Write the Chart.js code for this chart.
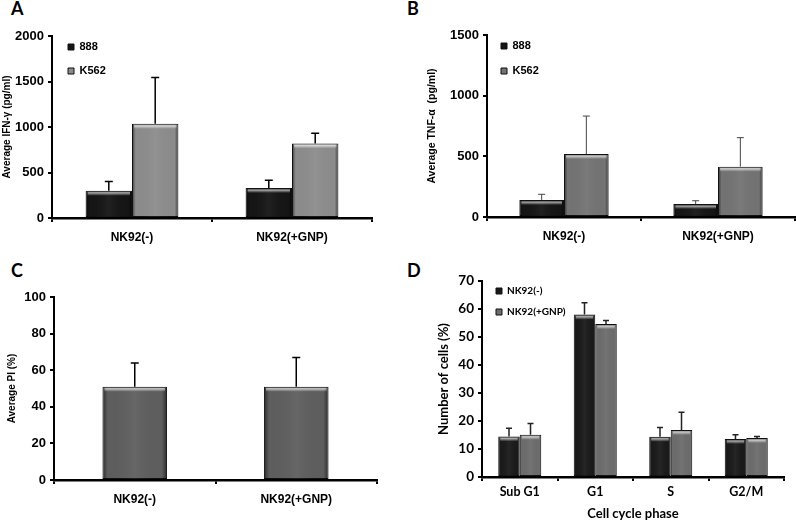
<!DOCTYPE html>
<html><head><meta charset="utf-8">
<script src="https://cdn.jsdelivr.net/npm/chart.js@4/dist/chart.umd.min.js"></script>
<style>
html,body{margin:0;padding:0;background:#fff;width:796px;height:527px;overflow:hidden;position:relative}
canvas{position:absolute}
.lbl{position:absolute;font-family:Lato,'Liberation Sans',sans-serif;font-weight:bold;font-size:18px;color:#000;line-height:20px}
</style></head><body>
<div class="lbl" style="left:11px;top:-2px">A</div>
<div class="lbl" style="left:407px;top:-2px">B</div>
<div class="lbl" style="left:11px;top:260px">C</div>
<div class="lbl" style="left:407px;top:260px">D</div>
<canvas id="cA" width="400" height="260" style="left:0;top:0"></canvas>
<canvas id="cB" width="396" height="260" style="left:400px;top:0"></canvas>
<canvas id="cC" width="400" height="267" style="left:0;top:260px"></canvas>
<canvas id="cD" width="396" height="267" style="left:400px;top:260px"></canvas>
<script>
// ---- data ----
const groups = ['NK92(-)', 'NK92(+GNP)'];
const ifn888 = [300, 330];
const ifn888Err = [100, 85];
const ifnK562 = [1035, 820];
const ifnK562Err = [510, 110];
const tnf888 = [140, 107];
const tnf888Err = [47, 27];
const tnfK562 = [519, 415];
const tnfK562Err = [313, 239];
const piMean = [51, 51];
const piErr = [13, 16];
const phases = ['Sub G1', 'G1', 'S', 'G2/M'];
const cellsCtrl = [14.5, 58.0, 14.4, 13.6];
const cellsCtrlErr = [2.9, 4.2, 3.3, 1.5];
const cellsGnp = [15.1, 54.6, 16.8, 13.9];
const cellsGnpErr = [4.0, 1.3, 6.3, 0.6];

Chart.defaults.font.family = "'Liberation Sans', Arial, sans-serif";
Chart.defaults.font.weight = 'bold';
Chart.defaults.color = '#000';

const bevel = {
  id: 'bevel',
  afterDatasetsDraw(chart) {
    const ctx = chart.ctx;
    chart.data.datasets.forEach((ds, di) => {
      chart.getDatasetMeta(di).data.forEach(bar => {
        const p = bar.getProps(['x', 'y', 'base', 'width'], true);
        const l = p.x - p.width / 2, r = p.x + p.width / 2;
        const t = Math.min(p.y, p.base), b = Math.max(p.y, p.base);
        const g = ctx.createLinearGradient(l, 0, r, 0);
        g.addColorStop(0, 'rgba(0,0,0,0.55)');
        g.addColorStop(0.08, 'rgba(0,0,0,0.0)');
        g.addColorStop(0.5, 'rgba(255,255,255,0.05)');
        g.addColorStop(0.92, 'rgba(0,0,0,0.0)');
        g.addColorStop(1, 'rgba(0,0,0,0.55)');
        ctx.save();
        ctx.fillStyle = g;
        ctx.fillRect(l + 1, t + 1, p.width - 2, b - t - 1);
        const hg = ctx.createLinearGradient(0, t + 1, 0, t + 5);
        hg.addColorStop(0, 'rgba(255,255,255,0.85)');
        hg.addColorStop(1, 'rgba(255,255,255,0)');
        ctx.fillStyle = hg;
        ctx.fillRect(l + 2, t + 1.5, p.width - 4, 4);
        ctx.restore();
      });
    });
  }
};

const errorBars = {
  id: 'errorBars',
  afterDatasetsDraw(chart, args, opts) {
    const ctx = chart.ctx, ys = chart.scales.y;
    chart.data.datasets.forEach((ds, di) => {
      chart.getDatasetMeta(di).data.forEach((bar, i) => {
        const v = ds.data[i], e = ds.errors[i];
        const y0 = ys.getPixelForValue(v), y1 = ys.getPixelForValue(v + e);
        ctx.save();
        ctx.strokeStyle = opts.color; ctx.lineWidth = opts.width;
        ctx.beginPath();
        ctx.moveTo(bar.x, y0); ctx.lineTo(bar.x, y1);
        ctx.moveTo(bar.x - opts.cap, y1); ctx.lineTo(bar.x + opts.cap, y1);
        ctx.stroke();
        ctx.restore();
      });
    });
  }
};

const legendMover = {
  id: 'legendMover',
  afterLayout(chart, args, opts) {
    const lg = chart.legend;
    if (!lg || opts.x == null) return;
    const pad = opts.pad, fs = opts.fs;
    const nl = opts.x - pad, nt = opts.y - fs / 2 - pad;
    const dx = nl - lg.left, dy = nt - lg.top;
    lg.left += dx; lg.right += dx; lg.top += dy; lg.bottom += dy;
  }
};

function makeChart(id, cfg) {
  const ff = cfg.fontFamily;
  const tickFont = {family: ff, size: cfg.tickSize, weight: 'bold'};
  return new Chart(document.getElementById(id), {
    type: 'bar',
    data: {labels: cfg.labels, datasets: cfg.datasets.map(d => Object.assign({
      borderColor: '#111', borderWidth: 1, borderSkipped: false,
      categoryPercentage: cfg.catPct, barPercentage: 1
    }, d))},
    options: {
      responsive: false, animation: false, events: [],
      layout: {padding: cfg.padding},
      plugins: {
        tooltip: {enabled: false},
        title: {display: false},
        legend: cfg.legend ? {
          display: true, position: 'chartArea', align: 'start',
          labels: {boxWidth: 6, boxHeight: 6, padding: cfg.legend.pad,
                   font: {family: ff, size: cfg.legend.fs, weight: 'bold'}, color: '#000'}
        } : {display: false},
        legendMover: cfg.legend ? cfg.legend : {},
        errorBars: cfg.err
      },
      scales: {
        x: {
          grid: {display: true, drawOnChartArea: false, tickLength: 4, color: '#000', lineWidth: 2, offset: true},
          border: {display: true, color: '#000', width: 2.5},
          ticks: {font: {family: ff, size: cfg.xLabelSize, weight: 'bold'}, padding: cfg.xPad, color: '#000', maxRotation: 0},
          title: cfg.xTitle ? {display: true, text: cfg.xTitle, font: {family: ff, size: 13, weight: 'bold'}, padding: {top: 0, bottom: cfg.xTitlePad}, color: '#000'} : {display: false},
          afterFit(s) { s.height = cfg.xH; }
        },
        y: {
          min: 0, max: cfg.max,
          ticks: {stepSize: cfg.step, font: tickFont, padding: 4, color: '#000', callback: v => String(v)},
          grid: {display: true, drawOnChartArea: false, tickLength: 4, color: '#000', lineWidth: 2},
          border: {display: true, color: '#000', width: 2},
          title: {display: true, text: cfg.yTitle, font: {family: ff, size: cfg.yTitleSize, weight: 'bold'}, padding: {top: cfg.yTitlePad, bottom: 0}, color: '#000'},
          afterFit(s) { s.width = cfg.yW; }
        }
      }
    },
    plugins: [bevel, errorBars, legendMover]
  });
}

const arial = "'Liberation Sans', Arial, sans-serif";
const calibri = "Lato, 'Open Sans', sans-serif";

makeChart('cA', {
  fontFamily: arial, tickSize: 13, xLabelSize: 12, xPad: 8,
  labels: groups,
  datasets: [
    {label: '888', data: ifn888, errors: ifn888Err, backgroundColor: '#151515'},
    {label: 'K562', data: ifnK562, errors: ifnK562Err, backgroundColor: '#8c8c8c'}
  ],
  catPct: 0.58, padding: {left: 0, top: 36, right: 28, bottom: 0},
  yW: 52, xH: 42, max: 2000, step: 500,
  yTitle: 'Average IFN-\u03b3 (pg/ml)', yTitleSize: 10, yTitlePad: 1,
  legend: {x: 68, y: 47, pad: 13, fs: 11},
  err: {color: '#000', width: 1.5, cap: 4}
});

makeChart('cB', {
  fontFamily: arial, tickSize: 13, xLabelSize: 12, xPad: 8,
  labels: groups,
  datasets: [
    {label: '888', data: tnf888, errors: tnf888Err, backgroundColor: '#151515'},
    {label: 'K562', data: tnfK562, errors: tnfK562Err, backgroundColor: '#737373'}
  ],
  catPct: 0.58, padding: {left: 0, top: 35, right: 1, bottom: 0},
  yW: 87, xH: 43, max: 1500, step: 500,
  yTitle: 'Average TNF-\u03b1  (pg/ml)', yTitleSize: 10.5, yTitlePad: 26,
  legend: {x: 101, y: 46, pad: 14, fs: 11},
  err: {color: '#444', width: 1, cap: 3.5}
});

makeChart('cC', {
  fontFamily: arial, tickSize: 13, xLabelSize: 12, xPad: 8,
  labels: groups,
  datasets: [
    {label: 'PI', data: piMean, errors: piErr, backgroundColor: '#5e5e5e'}
  ],
  catPct: 0.4, padding: {left: 0, top: 37, right: 23, bottom: 0},
  yW: 54, xH: 47, max: 100, step: 20,
  yTitle: 'Average PI (%)', yTitleSize: 10, yTitlePad: 6,
  legend: null,
  err: {color: '#000', width: 1.5, cap: 4}
});

makeChart('cD', {
  fontFamily: calibri, tickSize: 13.5, xLabelSize: 12.5, xPad: 3,
  labels: phases,
  datasets: [
    {label: 'NK92(-)', data: cellsCtrl, errors: cellsCtrlErr, backgroundColor: '#1a1a1a'},
    {label: 'NK92(+GNP)', data: cellsGnp, errors: cellsGnpErr, backgroundColor: '#6c6c6c'}
  ],
  catPct: 0.57, padding: {left: 0, top: 21, right: 12, bottom: 0},
  yW: 82, xH: 50, max: 70, step: 10,
  yTitle: 'Number of cells (%)', yTitleSize: 13, yTitlePad: 36,
  xTitle: 'Cell cycle phase', xTitlePad: 5,
  legend: {x: 96, y: 31, pad: 11, fs: 10},
  err: {color: '#222', width: 1.5, cap: 3}
});
</script>
</body></html>
